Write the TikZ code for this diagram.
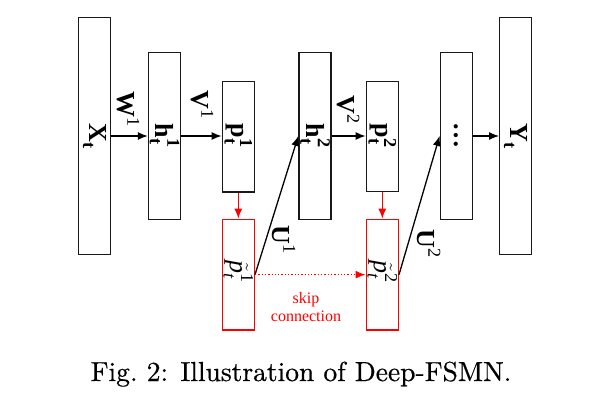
\documentclass[tikz,border=0pt]{standalone}
\usepackage{amsmath}
\usepackage{fontspec}
\newfontfamily\tnr{Liberation Serif}
\newfontfamily\capfont{lmroman10-regular.otf}[FakeBold=0.5]
\usetikzlibrary{arrows.meta}
\newcommand\lb[3]{$\text{#1}_{\text{#2}}^{\text{#3}}$}
\newcommand\ptl[1]{$\tilde{\text{\itshape\mdseries p}}_{\text{\itshape\mdseries t}}^{\text{\mdseries #1}}$}
\begin{document}
\begin{tikzpicture}[x=1pt,y=-1pt,
  blk/.style={draw=black!90, line width=1.4pt, minimum width=32pt, inner sep=0pt},
  redblk/.style={draw=red, line width=1.4pt, minimum width=32pt, inner sep=0pt},
  arr/.style={-{Latex[length=10pt,width=8pt]}, line width=1.3pt},
  rarr/.style={arr, red},
  lab/.style={rotate=-90, font=\tnr\bfseries\fontsize{26}{30}\selectfont, inner sep=0pt},
]
\useasboundingbox (0,0) rectangle (599,401);
% boxes
\node[blk, minimum height=237.5pt] (X) at (94.5,136) {};
\node[blk, minimum height=166.6pt] (h1) at (164.5,136) {};
\node[blk, minimum height=110.5pt] (p1) at (238.3,136.75) {};
\node[redblk, minimum height=110.7pt] (pt1) at (238.3,274.65) {};
\node[blk, minimum height=166.6pt] (h2) at (315,136) {};
\node[blk, minimum height=110.5pt] (p2) at (382.3,136.5) {};
\node[redblk, minimum height=110.7pt] (pt2) at (382.3,274.65) {};
\node[blk, minimum height=166.6pt] (d) at (456.3,136) {};
\node[blk, minimum height=237.5pt] (Y) at (515.7,136) {};
% inner labels
\node[lab] at (X) {\lb{X}{t}{}};
\node[lab] at (h1) {\lb{h}{t}{1}};
\node[lab] at (238.3,136) {\lb{p}{t}{1}};
\node[lab] at (h2) {\lb{h}{t}{2}};
\node[lab] at (382.3,136) {\lb{p}{t}{2}};
\node[lab] at (d) {\dots};
\node[lab] at (Y) {\lb{Y}{t}{}};
\node[lab, font=\tnr\fontsize{26}{30}\selectfont] at (238.3,272) {\ptl{1}};
\node[lab, font=\tnr\fontsize{26}{30}\selectfont] at (382.3,272) {\ptl{2}};
% connectors
\draw[arr] (X.east) -- (h1.west);
\draw[arr] (h1.east) -- (h1.east -| p1.west);
\draw[arr] (h2.east) -- (h2.east -| p2.west);
\draw[arr] (d.east) -- (Y.west);
\draw[rarr] (p1.south) -- (pt1.north);
\draw[rarr] (p2.south) -- (pt2.north);
\draw[arr] (pt1.east) -- (h2.west);
\draw[arr] (pt2.east) -- (d.west);
\draw[rarr, dotted, line width=1.5pt] (pt1.east) -- (pt2.west);
% edge labels
\node[lab] (W1) at (128,109) {$\text{W}^{\text{\mdseries 1}}$};
\node[lab] (V1) at (202,105) {$\text{V}^{\text{\mdseries 1}}$};
\node[lab] (V2) at (348,110) {$\text{V}^{\text{\mdseries 2}}$};
\node[lab] (U1) at (284,240) {$\text{U}^{\text{\mdseries 1}}$};
\node[lab] (U2) at (429,244) {$\text{U}^{\text{\mdseries 2}}$};
\node[red, align=center, font=\tnr\fontsize{16}{18}\selectfont, inner sep=0pt] (skip) at (306,307) {skip\\connection};
% caption
\node[anchor=base, font=\capfont\fontsize{27.5}{32}\selectfont, inner sep=0pt] (cap) at (301,381) {Fig.~2: Illustration of Deep-FSMN.};
\end{tikzpicture}
\end{document}
